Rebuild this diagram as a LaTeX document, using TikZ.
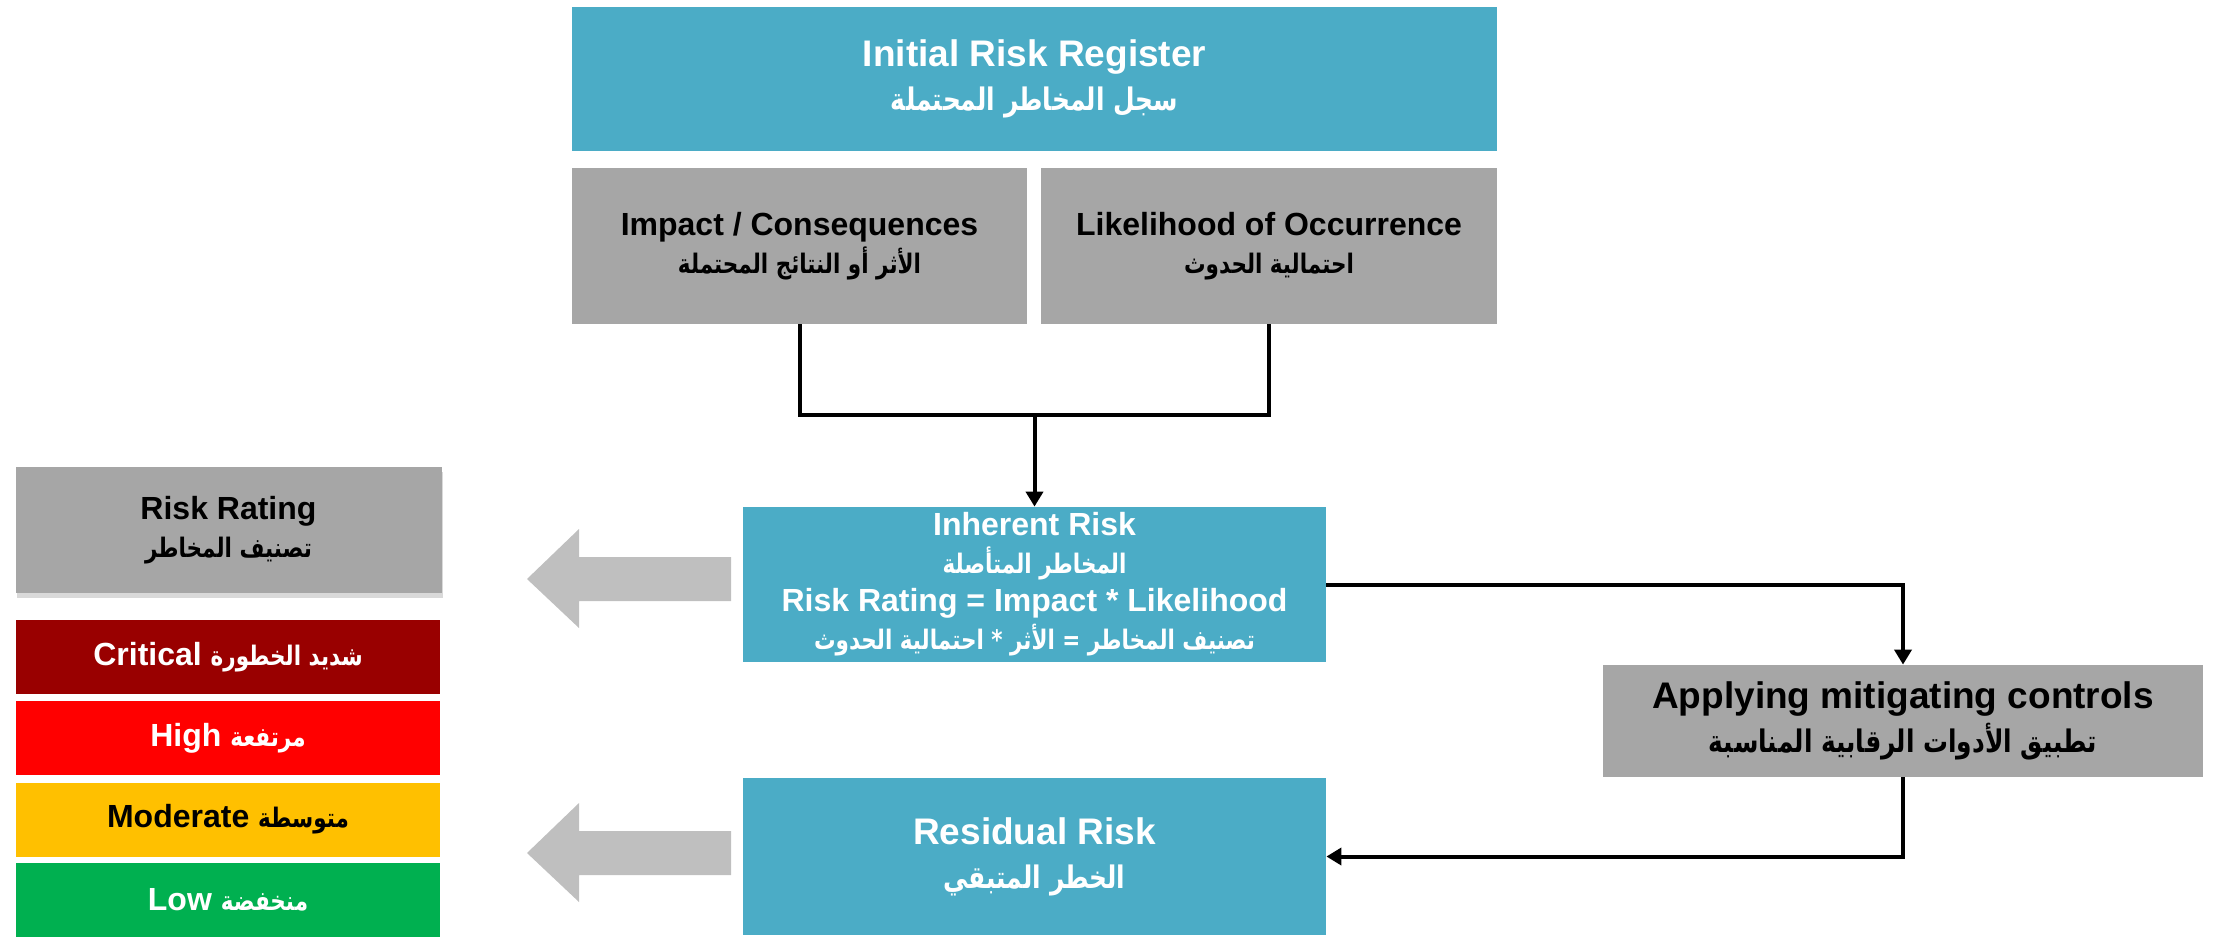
\documentclass[tikz,border=0pt]{standalone}
\usepackage{fontspec}
\setmainfont{Liberation Sans}
\newfontfamily\arabicfont[Script=Arabic,Scale=0.84,FakeStretch=0.8]{DejaVu Sans}
\TeXXeTstate=1
\usetikzlibrary{arrows.meta,shadows}
\definecolor{riskteal}{HTML}{4BACC6}
\definecolor{riskgray}{HTML}{A6A6A6}
\definecolor{arrowgray}{HTML}{BFBFBF}
\definecolor{critred}{HTML}{990000}
\definecolor{highred}{HTML}{FF0000}
\definecolor{modamber}{HTML}{FFC000}
\definecolor{lowgreen}{HTML}{00B050}
\newcommand{\artxt}[1]{{\arabicfont\beginR #1\endR}}
\tikzset{every node/.style={align=center, inner sep=0pt, font=\bfseries\fontsize{16}{19}\selectfont},
  tealbox/.style={fill=riskteal, text=white},
  graybox/.style={fill=riskgray, text=black},
  bigtext/.style={font=\bfseries\fontsize{18.5}{22}\selectfont},
  levelbox/.style={minimum width=212pt, minimum height=37pt},
  link/.style={black, line width=2pt},
  linkarrow/.style={link, -{Triangle[width=8.5pt,length=7.5pt]}}}

\begin{document}
\begin{tikzpicture}[x=0.5pt,y=-0.5pt]
  \useasboundingbox (0,0) rectangle (2219,936);
  % top row
  \node[tealbox, bigtext, minimum width=462.5pt, minimum height=72pt] (register) at (1034.5,79)
    {Initial Risk Register\\ \artxt{سجل المخاطر المحتملة}};
  \node[graybox, minimum width=227.5pt, minimum height=78pt] (impact) at (799.5,246)
    {Impact / Consequences\\ \artxt{الأثر أو النتائج المحتملة}};
  \node[graybox, minimum width=228pt, minimum height=78pt] (likeli) at (1269,246)
    {Likelihood of Occurrence\\ \artxt{احتمالية الحدوث}};
  % middle column
  \node[tealbox, minimum width=291.5pt, minimum height=77.5pt] (inherent) at (1034.5,584.5)
    {Inherent Risk\\ \artxt{المخاطر المتأصلة}\\ Risk Rating = Impact * Likelihood\\
     \artxt{تصنيف المخاطر = الأثر * احتمالية الحدوث}};
  \node[tealbox, bigtext, minimum width=291.5pt, minimum height=78.5pt] (residual) at (1034.5,856.5)
    {Residual Risk\\ \artxt{الخطر المتبقي}};
  \node[graybox, bigtext, minimum width=300pt, minimum height=56pt] (applying) at (1903,721)
    {Applying mitigating controls\\ \artxt{تطبيق الأدوات الرقابية المناسبة}};
  % legend
  \node[graybox, minimum width=213pt, minimum height=63pt,
    drop shadow={shadow xshift=0.5pt, shadow yshift=-2.5pt, opacity=0.3}] (rating) at (228.5,530)
    {Risk Rating\\ \artxt{تصنيف المخاطر}};
  \node[levelbox, fill=critred, text=white] (critical) at (228,657) {Critical \artxt{شديد الخطورة}};
  \node[levelbox, fill=highred, text=white] (high) at (228,738) {High \artxt{مرتفعة}};
  \node[levelbox, fill=modamber, text=black] (moderate) at (228,819.5) {Moderate \artxt{متوسطة}};
  \node[levelbox, fill=lowgreen, text=white] (low) at (228,899.5) {Low \artxt{منخفضة}};
  % connectors
  \coordinate (join) at (1034.5,415);
  \draw[link] (impact.south) -- (impact.south |- join) -| (likeli.south);
  \draw[linkarrow] (join) -- (inherent.north);
  \draw[linkarrow] (inherent.east) -| (applying.north);
  \draw[linkarrow] (applying.south) |- (residual.east);
  % gray arrows
  \fill[arrowgray] (731,557) -- (579,557) -- (579,529) -- (527,579) -- (579,628) -- (579,601) -- (731,601) -- cycle;
  \fill[arrowgray] (731,831) -- (579,831) -- (579,803) -- (527,853) -- (579,902) -- (579,875) -- (731,875) -- cycle;
\end{tikzpicture}
\end{document}
